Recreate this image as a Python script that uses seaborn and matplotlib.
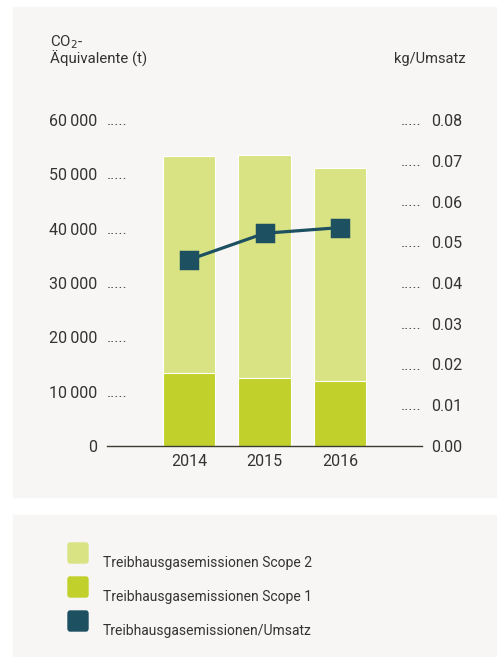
import matplotlib
matplotlib.use("Agg")
import matplotlib.pyplot as plt
import matplotlib.transforms as mtransforms
from matplotlib.patches import Rectangle, FancyBboxPatch
import seaborn as sns

# data
years = ["2014", "2015", "2016"]
scope1 = [13500, 12500, 12000]
scope2 = [39800, 41100, 39100]
intensity = [0.0457, 0.0522, 0.0536]

left_ticks = [0, 10000, 20000, 30000, 40000, 50000, 60000]
right_ticks = [0.00, 0.01, 0.02, 0.03, 0.04, 0.05, 0.06, 0.07, 0.08]

C_S2 = "#d9e383"
C_S1 = "#c1d02a"
C_LINE = "#1d5060"
C_TEXT = "#333333"
C_BG = "#f7f6f4"

sns.set_style("white")
plt.rcParams["font.family"] = ["Roboto", "DejaVu Sans"]

W, H = 497, 657
fig = plt.figure(figsize=(W / 100, H / 100), dpi=100)
fig.patch.set_facecolor("white")

# panel backgrounds
fig.patches.append(Rectangle((13 / W, 1 - 497 / H), 1 - 13 / W, 490 / H,
                             transform=fig.transFigure, color=C_BG, zorder=-10))
fig.patches.append(Rectangle((13 / W, 0), 1 - 13 / W, 142 / H,
                             transform=fig.transFigure, color=C_BG, zorder=-10))

ax = fig.add_axes([107 / W, 1 - 446 / H, 315 / W, 326 / H])
ax.set_facecolor("none")

total = [a + b for a, b in zip(scope1, scope2)]
sns.barplot(x=years, y=total, color=C_S2, width=0.69, saturation=1,
            edgecolor="white", linewidth=0.8, ax=ax)
sns.barplot(x=years, y=scope1, color=C_S1, width=0.69, saturation=1,
            edgecolor="white", linewidth=0.8, ax=ax)

ax.set_xlim(-1.086, 3.086)
ax.set_ylim(0, 60000)
ax.set_yticks(left_ticks)
ax.set_yticklabels([f"{v:,}".replace(",", "\u2009") if v else "0" for v in left_ticks])
ax.tick_params(axis="y", length=0, pad=7, labelsize=11.5, labelcolor=C_TEXT)
ax.tick_params(axis="x", length=0, pad=6, labelsize=11.5, labelcolor=C_TEXT)
ax.set_xlabel("")
ax.set_ylabel("")
for s in ["top", "left", "right"]:
    ax.spines[s].set_visible(False)
ax.spines["bottom"].set_color("#3b3b2e")
ax.spines["bottom"].set_linewidth(1.0)

ax2 = ax.twinx()
ax2.set_facecolor("none")
sns.lineplot(x=[0, 1, 2], y=intensity, color=C_LINE, linewidth=2.3,
             marker="s", markersize=12, markeredgecolor=C_LINE,
             markeredgewidth=2.5, ax=ax2, zorder=5)
for l in ax2.lines:
    l.set_solid_joinstyle("round")
    l.set_markeredgewidth(2.5)
ax2.set_ylim(0, 0.08)
ax2.set_xlim(-1.086, 3.086)
ax2.set_yticks(right_ticks)
ax2.set_yticklabels([f"{v:.2f}" for v in right_ticks])
ax2.tick_params(axis="y", length=0, pad=6.5, labelsize=11.5, labelcolor=C_TEXT)
for s in ["top", "left", "right", "bottom"]:
    ax2.spines[s].set_visible(False)

# leader dots next to the tick labels
dot_tr_l = mtransforms.offset_copy(ax.get_yaxis_transform(), fig=fig, x=0, y=-5, units="dots")
for v in left_ticks[1:]:
    ax.text(0.0, v, ".....", transform=dot_tr_l, ha="left", va="baseline",
            fontsize=11, color="#444444")
dot_tr_r = mtransforms.offset_copy(ax2.get_yaxis_transform(), fig=fig, x=0, y=-5, units="dots")
for v in right_ticks[1:]:
    ax2.text(1.0, v, ".....", transform=dot_tr_r, ha="right", va="baseline",
             fontsize=11, color="#444444")

# axis titles
fig.text(50 / W, 1 - 42 / H, "CO$_2$-", fontsize=10.8, color=C_TEXT, va="center")
fig.text(50 / W, 1 - 59 / H, "Äquivalente (t)", fontsize=10.8, color=C_TEXT, va="center")
fig.text(466 / W, 1 - 59 / H, "kg/Umsatz", fontsize=10.5, color=C_TEXT, va="center", ha="right")

# legend
legend_items = [("Treibhausgasemissionen Scope 2", C_S2),
                ("Treibhausgasemissionen Scope 1", C_S1),
                ("Treibhausgasemissionen/Umsatz", C_LINE)]
for i, (label, col) in enumerate(legend_items):
    y_top = 542 + i * 34
    fig.patches.append(FancyBboxPatch((68 / W, 1 - (y_top + 21) / H), 20 / W, 20 / H,
                                      boxstyle="round,pad=0,rounding_size=0.004",
                                      transform=fig.transFigure, color=col, zorder=2))
    fig.text(103 / W, 1 - (y_top + 21) / H, label, fontsize=10, color=C_TEXT, va="center")

fig.savefig("out.png", dpi=100, facecolor=fig.get_facecolor())
